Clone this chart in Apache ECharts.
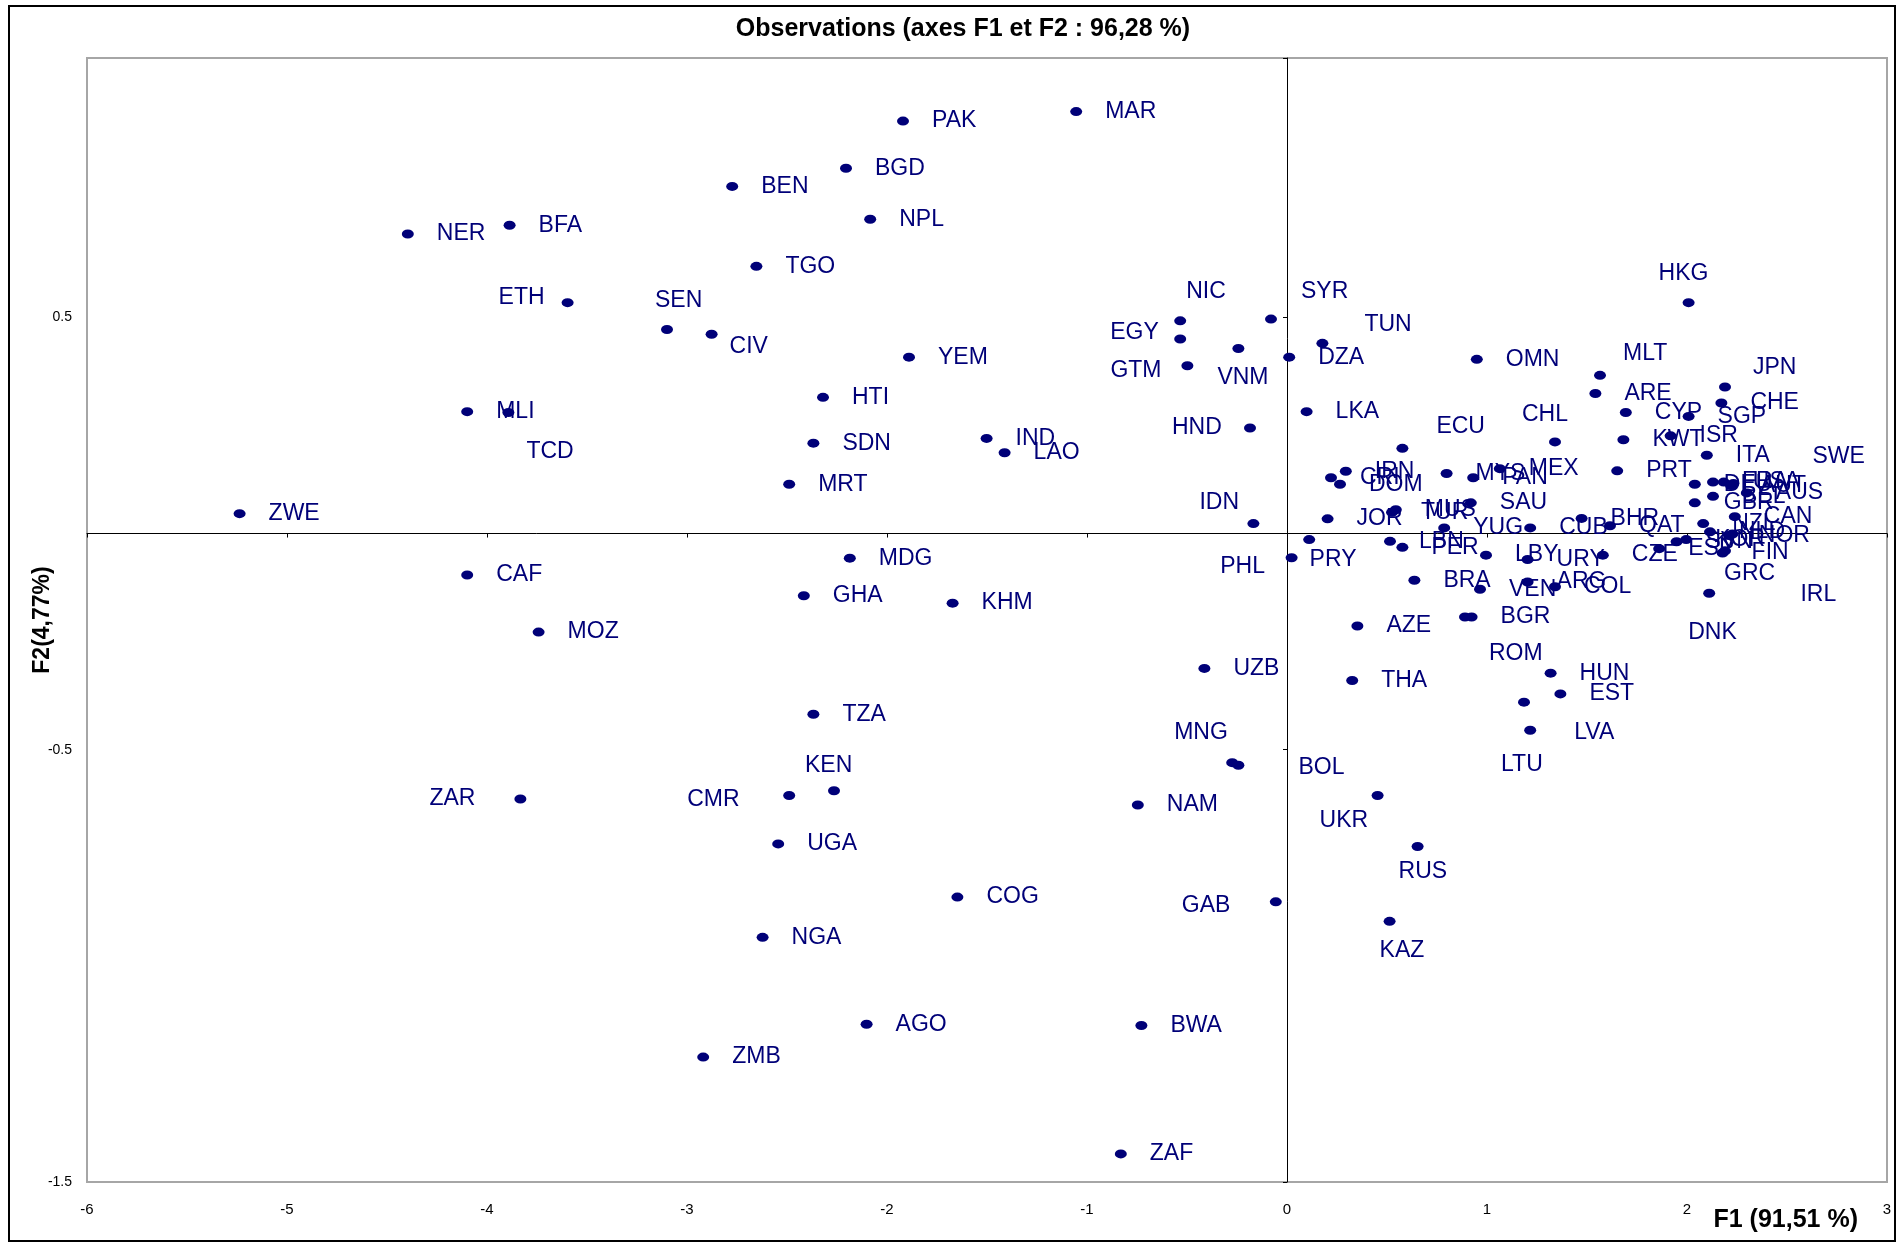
<!DOCTYPE html>
<html>
<head>
<meta charset="utf-8">
<script src="https://cdn.jsdelivr.net/npm/echarts@6/dist/echarts.min.js"></script>
<style>
html,body{margin:0;padding:0;background:#fff;}
#chart{width:1898px;height:1243px;}
</style>
</head>
<body>
<div id="chart"></div>
<script>
// ---- data ----
const titleText = 'Observations (axes F1 et F2 : 96,28 %)';
const xName = 'F1 (91,51 %)';
const yName = 'F2(4,77%)';
const xTicks = [-6, -5, -4, -3, -2, -1, 0, 1, 2, 3];
const yTicks = [-1.5, -0.5, 0.5];

const codes = [
 'PAK','MAR','BGD','BEN','NPL','NER','BFA','TGO','ETH','SEN','CIV','YEM','HTI','MLI','TCD','SDN','IND','LAO','MRT','ZWE',
 'NIC','EGY','SYR','GTM','VNM','TUN','DZA','HND','LKA','IDN',
 'OMN','MLT','ARE','HKG','JPN','CHE','CYP','SGP','ECU','CHL','KWT','ISR','ITA','PRT',
 'MYS','PAN','MEX','IRN','CRI','DOM','JOR','TUR','MUS','SAU','YUG','CUB','BHR','QAT','LBN','PER','LBY','URY','CZE','PRY','PHL',
 'DEU','FRA','USA','SWE','AUT','AUS','BEL','GBR','NZL','CAN','NLD','NOR','KOR','SVN','ESP','FIN','GRC','IRL','DNK',
 'MDG','CAF','GHA','KHM','MOZ','TZA','KEN','CMR','ZAR','UGA','COG','NGA','AGO','ZMB',
 'UZB','MNG','BOL','NAM','GAB','BWA','ZAF','AZE','THA','BRA','VEN','ARG','COL','BGR','ROM','HUN','EST','LVA','LTU','UKR','RUS','KAZ'
];
const f1 = [
 -1.920,-1.054,-2.205,-2.774,-2.084,-4.396,-3.887,-2.653,-3.597,-3.100,-2.877,-1.890,-2.320,-4.099,-3.893,-2.368,-1.502,-1.412,-2.489,-5.237,
 -0.534,-0.534,-0.080,-0.498,-0.243,0.177,0.011,-0.185,0.098,-0.168,
 0.949,1.565,1.542,2.008,2.190,2.172,1.694,2.008,0.577,1.340,1.682,1.918,2.099,1.651,
 0.798,0.931,1.064,0.294,0.220,0.265,0.203,0.525,0.544,0.919,0.786,1.216,1.473,1.615,0.515,0.577,0.995,1.203,1.579,0.023,0.111,
 2.039,2.130,2.184,2.232,2.220,2.299,2.130,2.039,2.081,2.239,2.115,2.214,1.996,1.948,1.861,2.178,2.190,2.227,2.111,
 -2.186,-4.099,-2.416,-1.672,-3.742,-2.368,-2.265,-2.489,-3.833,-2.544,-1.648,-2.622,-2.102,-2.919,
 -0.413,-0.274,-0.243,-0.746,-0.056,-0.728,-0.831,0.352,0.326,0.637,0.965,1.203,1.340,0.923,0.890,1.318,1.367,1.216,1.185,0.453,0.653,0.513
];
const f2 = [
 0.954,0.976,0.845,0.803,0.727,0.693,0.713,0.618,0.534,0.472,0.461,0.408,0.315,0.282,0.280,0.209,0.220,0.187,0.114,0.046,
 0.492,0.450,0.496,0.388,0.428,0.440,0.408,0.244,0.282,0.023,
 0.403,0.366,0.324,0.534,0.339,0.302,0.280,0.271,0.197,0.212,0.217,0.226,0.181,0.145,
 0.139,0.129,0.150,0.144,0.129,0.114,0.034,0.049,0.055,0.071,0.013,0.013,0.035,0.018,-0.018,-0.032,-0.050,-0.060,-0.050,-0.056,-0.014,
 0.114,0.119,0.119,0.116,0.111,0.094,0.086,0.071,0.023,0.039,0.004,-0.004,-0.014,-0.019,-0.035,-0.045,-0.040,-0.001,-0.138,
 -0.057,-0.096,-0.144,-0.161,-0.228,-0.418,-0.595,-0.606,-0.614,-0.718,-0.841,-0.934,-1.135,-1.211,
 -0.312,-0.530,-0.536,-0.628,-0.852,-1.138,-1.435,-0.214,-0.340,-0.108,-0.129,-0.112,-0.123,-0.193,-0.193,-0.323,-0.371,-0.455,-0.390,-0.606,-0.724,-0.897
];

// ---- label placement tweaks (pixels, relative to the default "right of point" spot) ----
const labelShift = {
 ETH:[-98,-5], SEN:[-41,-29], CIV:[-11,12], TCD:[-11,39],
 NIC:[-23,-29], EGY:[-99,-6], SYR:[1,-27], GTM:[-106,5], VNM:[-50,29], TUN:[13,-19],
 HND:[-107,0], IDN:[-83,-21], MLT:[-6,-22], HKG:[-59,-29], JPN:[-1,-19], ECU:[5,-22], CHL:[-62,-27],
 SWE:[50,-27], PRY:[-11,2], PHL:[-118,27],
 KEN:[-58,-25], CMR:[-131,4], ZAR:[-120,0], MNG:[-87,-30], BOL:[31,2], GAB:[-123,4],
 ROM:[-5,37], LVA:[15,2], LTU:[-52,63], UKR:[-87,25], RUS:[-48,25], KAZ:[-39,29],
 GRC:[-30,23], IRL:[39,61], DNK:[-50,39]
};

const NAVY = '#000078';
const FONT = 'Liberation Sans, Arial, sans-serif';
const points = codes.map((c, i) => {
  const p = { name: c, value: [f1[i], f2[i]] };
  if (labelShift[c]) p.label = { offset: labelShift[c] };
  return p;
});

const chart = echarts.init(document.getElementById('chart'), null, { renderer: 'canvas' });
const xMin = xTicks[0], xMax = xTicks[xTicks.length - 1];
const yMin = yTicks[0], yMax = 1.1;

chart.setOption({
  animation: false,
  backgroundColor: '#fff',
  title: {
    text: titleText,
    left: 958, top: 12, textAlign: 'center',
    textStyle: { fontFamily: FONT, fontWeight: 'bold', fontSize: 25, color: '#000' }
  },
  graphic: [{
    type: 'rect', silent: true, z: -1,
    shape: { x: 9, y: 6, width: 1886, height: 1235 },
    style: { fill: 'none', stroke: '#000', lineWidth: 2 }
  }],
  grid: { left: 87, top: 58, right: 11, bottom: 61, show: true, borderColor: '#a6a6a6', borderWidth: 2, backgroundColor: 'transparent' },
  xAxis: [{
    type: 'value', min: xMin, max: xMax, interval: 1, position: 'bottom',
    axisLine: { show: false, onZero: false }, axisTick: { show: false }, splitLine: { show: false },
    axisLabel: { margin: 20, fontSize: 15, color: '#000', fontFamily: FONT },
    name: xName, nameLocation: 'end', nameGap: -29, nameMoveOverlap: false,
    nameTextStyle: { align: 'right', verticalAlign: 'top', padding: [26, 0, 0, 0], fontFamily: FONT, fontWeight: 'bold', fontSize: 25, color: '#000' }
  }, {
    type: 'value', min: xMin, max: xMax, interval: 1,
    axisLine: { show: true, onZero: true, onZeroAxisIndex: 0, lineStyle: { color: '#000', width: 1 } },
    axisTick: { show: true, length: 4, inside: true, lineStyle: { color: '#000' } },
    axisLabel: { show: false }, splitLine: { show: false }
  }],
  yAxis: [{
    type: 'value', min: yMin, max: yMax, interval: 1, position: 'left',
    axisLine: { show: false, onZero: false }, axisTick: { show: false }, splitLine: { show: false },
    axisLabel: { margin: 15, fontSize: 14, color: '#000', showMaxLabel: false, fontFamily: FONT,
      formatter: v => (Math.abs(v - Math.round(v)) > 0.01 ? v.toFixed(1) : '') },
    name: yName, nameLocation: 'middle', nameGap: 33, nameMoveOverlap: false,
    nameTextStyle: { fontFamily: FONT, fontWeight: 'bold', fontSize: 23, color: '#000' }
  }, {
    type: 'value', min: yMin, max: yMax, interval: 1,
    axisLine: { show: true, onZero: true, onZeroAxisIndex: 0, lineStyle: { color: '#000', width: 1 } },
    axisTick: { show: true, length: 4, inside: true, lineStyle: { color: '#000' } },
    axisLabel: { show: false }, splitLine: { show: false }
  }],
  series: [{
    type: 'scatter', xAxisIndex: 0, yAxisIndex: 0,
    symbol: 'circle', symbolSize: [12, 9],
    itemStyle: { color: NAVY, opacity: 1 },
    label: {
      show: true, position: 'right', distance: 23, formatter: '{b}',
      color: NAVY, fontSize: 23, fontFamily: FONT, opacity: 1
    },
    emphasis: { disabled: true },
    data: points
  }]
});
</script>
</body>
</html>
